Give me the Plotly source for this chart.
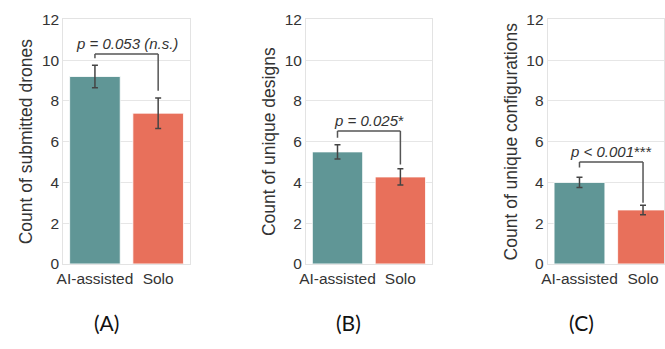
import plotly.graph_objects as go

# ---- data ----
categories = ["AI-assisted", "Solo"]
submitted_mean = [9.2, 7.4]
submitted_err = [0.55, 0.75]
designs_mean = [5.5, 4.27]
designs_err = [0.35, 0.40]
configs_mean = [4.0, 2.65]
configs_err = [0.25, 0.23]

y_titles = ["Count of submitted drones", "Count of unique designs", "Count of unique configurations"]
p_texts = ["<i>p = 0.053 (n.s.)</i>", "<i>p = 0.025</i>*", "<i>p &lt; 0.001</i>***"]
bracket_top = [10.3, 6.53, 5.0]
bracket_left_end = [10.1, 6.2, 4.73]
bracket_right_end = [8.5, 4.88, 3.0]
panel_labels = ["(A)", "(B)", "(C)"]
y_ticks = [0, 2, 4, 6, 8, 10, 12]

means = [submitted_mean, designs_mean, configs_mean]
errs = [submitted_err, designs_err, configs_err]

W, H = 665, 349
colors = ["#609696", "#e8705b"]
text_color = "#333333"
font_family = "Liberation Sans, Arial, sans-serif"

x_domains_px = [(57, 185), (302.7, 430), (547.3, 665)]
x_ranges = [[-0.5, 1.5], [-0.5, 1.5], [-0.5, 1.33]]
y_dom = [(H - 268) / H, (H - 11) / H]
label_x_px = [101, 346, 582]
label_y_px = 330

fig = go.Figure()

for i in range(3):
    ax = "" if i == 0 else str(i + 1)
    fig.add_trace(go.Bar(
        x=categories, y=means[i],
        marker=dict(color=colors, line=dict(color="rgba(255,255,255,0.8)", width=1)),
        width=0.8,
        error_y=dict(type="data", array=errs[i], color="#444444", thickness=1.5, width=3),
        xaxis="x" + ax, yaxis="y" + ax, showlegend=False,
    ))
    d0, d1 = x_domains_px[i]
    fig.update_layout(**{
        "xaxis" + ax: dict(
            domain=[d0 / W, d1 / W], range=x_ranges[i], type="category",
            showgrid=False, showline=True, linecolor="#e3e3e3", linewidth=1, mirror=True,
            ticks="", tickfont=dict(size=15.5, color=text_color, family=font_family),
            anchor="y" + ax, zeroline=False,
        ),
        "yaxis" + ax: dict(
            domain=y_dom, range=[0, 12], tickvals=y_ticks,
            showgrid=True, gridcolor="#e6e6e6", gridwidth=1,
            showline=True, linecolor="#e3e3e3", linewidth=1, mirror=True,
            ticks="", tickfont=dict(size=15.5, color=text_color, family=font_family),
            title=dict(text=y_titles[i], font=dict(size=17.5, color=text_color, family=font_family), standoff=4),
            anchor="x" + ax, zeroline=False,
        ),
    })
    xr, yr = "x" + ax, "y" + ax
    line = dict(color="#555555", width=1.5)
    fig.add_shape(type="line", xref=xr, yref=yr, x0=0, x1=1, y0=bracket_top[i], y1=bracket_top[i], line=line)
    fig.add_shape(type="line", xref=xr, yref=yr, x0=0, x1=0, y0=bracket_left_end[i], y1=bracket_top[i], line=line)
    fig.add_shape(type="line", xref=xr, yref=yr, x0=1, x1=1, y0=bracket_right_end[i], y1=bracket_top[i], line=line)
    fig.add_annotation(x=0.5, y=bracket_top[i], xref=xr, yref=yr, text=p_texts[i],
                       showarrow=False, xanchor="center", yanchor="bottom", yshift=0,
                       font=dict(size=15, color=text_color, family=font_family))
    fig.add_annotation(x=label_x_px[i] / W, y=(H - label_y_px) / H, xref="paper", yref="paper",
                       text=panel_labels[i], showarrow=False, xanchor="center", yanchor="middle",
                       font=dict(size=21, color="#111111", family="Lato, Open Sans, sans-serif"))

fig.update_layout(
    width=W, height=H, margin=dict(l=0, r=0, t=0, b=0),
    paper_bgcolor="white", plot_bgcolor="white",
    bargap=0.2,
)

fig.write_html("out.html")
